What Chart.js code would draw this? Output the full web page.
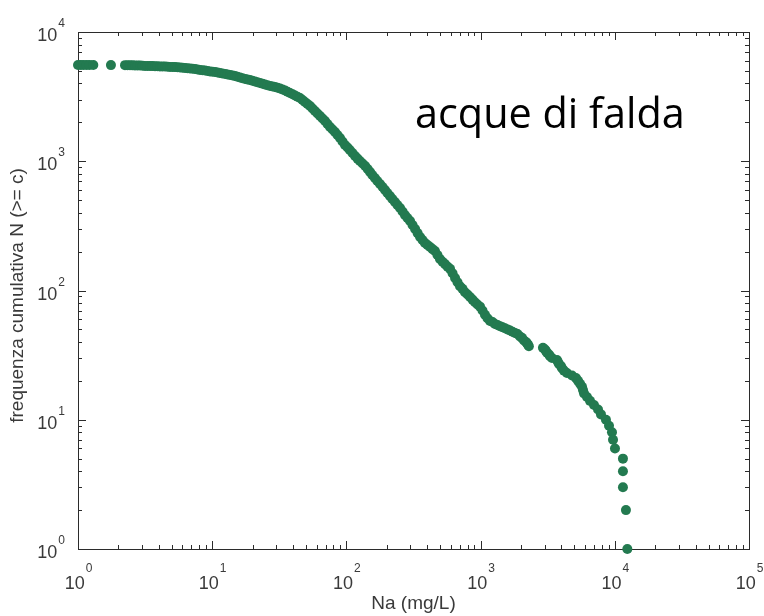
<!DOCTYPE html>
<html>
<head>
<meta charset="utf-8">
<script src="https://cdn.jsdelivr.net/npm/chart.js@4.4.1/dist/chart.umd.min.js"></script>
<style>
  html, body { margin: 0; padding: 0; background: #ffffff; }
  #wrap { width: 764px; height: 616px; }
</style>
</head>
<body>
<div id="wrap"><canvas id="c" width="764" height="616"></canvas></div>
<script>
// Na concentration (mg/L) and cumulative count N(>= c)
const naValues = [
  1.00, 1.05, 1.10, 1.16, 1.22, 1.30, 1.76,
  2.24, 2.34, 2.44, 2.55, 2.66, 2.78, 2.90, 3.03, 3.16, 3.30, 3.44, 3.59, 3.75, 3.91,
  4.08, 4.26, 4.45, 4.65, 4.85, 5.06, 5.28, 5.51, 5.76, 6.01, 6.27, 6.54, 6.83, 7.13,
  7.44, 7.77, 8.11, 8.47, 8.84, 9.23, 9.63, 10.05, 10.5, 10.95, 11.4, 11.9, 12.5, 13.0,
  13.6, 14.2, 14.8, 15.4, 16.1, 16.8, 17.6, 18.3, 19.1, 19.9, 20.8, 21.7, 22.7, 23.7,
  24.7, 25.8, 27.0, 28.2, 29.4, 30.7, 32.0, 33.4, 34.9, 36.4, 38.0, 39.7, 41.4, 43.2,
  45.1, 47.1, 49.1, 51.3, 53.6, 55.9, 58.3, 60.9, 63.6, 66.4, 69.3, 72.3, 75.5, 78.8,
  82.2, 85.8, 89.6, 93.5, 97.6, 102, 106, 111, 116, 121, 126, 132, 138, 144,
  150, 156, 163, 170, 178, 186, 194, 202, 211, 220, 230, 240, 251, 262,
  273, 285, 298, 311, 325, 339, 354, 369, 385, 402, 420, 438, 457, 477,
  498, 520, 543, 567, 592, 618, 645, 673, 702, 733, 765, 799, 834, 870,
  908, 948, 990, 1033, 1078, 1125, 1175, 1226, 1280, 1336, 1395, 1456, 1520, 1587,
  1656, 1728, 1804, 1883, 1966, 2035, 2106, 2180, 2220, 2256, 2290,
  2915, 3020, 3070, 3125, 3235, 3290, 3405, 3710, 3775, 3840, 3970, 4045, 4180, 4400,
  4800, 5140, 5320, 5510, 5700, 5795, 5895, 6205, 6535, 7000, 7500, 7890, 8595, 9055,
  9530, 9700, 10030, 11500, 11500, 11500, 12110, 12400
];
const countValues = [
  5560, 5558, 5556, 5554, 5552, 5550, 5546,
  5540, 5535, 5530, 5518, 5506, 5503, 5500, 5480, 5457, 5453, 5450, 5445, 5440, 5425,
  5409, 5405, 5400, 5380, 5361, 5355, 5350, 5332, 5313, 5290, 5266, 5242, 5219, 5195,
  5172, 5126, 5081, 5058, 5036, 4991, 4947, 4925, 4903, 4860, 4817, 4774, 4732, 4690,
  4648, 4607, 4566, 4506, 4446, 4387, 4329, 4291, 4253, 4196, 4140, 4085, 4031, 3978,
  3925, 3873, 3821, 3787, 3754, 3704, 3655, 3591, 3528, 3451, 3374, 3300, 3227, 3156,
  3086, 2978, 2873, 2774, 2676, 2560, 2448, 2342, 2240, 2142, 2049, 1942, 1841, 1761,
  1684, 1596, 1513, 1422, 1336, 1278, 1222, 1158, 1098, 1048, 1004, 961, 919, 871,
  826, 783, 742, 704, 667, 632, 599, 568, 538, 510, 484, 459, 435, 409,
  384, 364, 345, 321, 299, 278, 259, 246, 233, 225, 217, 209, 202, 188,
  175, 167, 160, 153, 147, 136, 125, 116, 108, 103, 97, 93, 89, 85,
  81, 78, 75, 70, 65, 61, 58, 57, 55, 54, 53, 52, 51, 50,
  49, 48, 47, 46, 44, 43, 41, 40, 39, 38, 37,
  36, 35, 34, 33, 32, 31, 30, 29, 28, 27, 26, 25, 24, 23,
  22, 21, 20, 19, 18, 17, 16, 15, 14, 13, 12, 11, 10, 9,
  8, 7, 6, 5, 4, 3, 2, 1
];
// tick labels: base and exponents
const tickBase = '10';
const xTickExponents = ['0', '1', '2', '3', '4', '5'];
const yTickExponents = ['0', '1', '2', '3', '4'];
const xTitle = 'Na (mg/L)';
const yTitle = 'frequenza cumulativa N (>= c)';
const annotationText = 'acque di falda';

const points = naValues.map((v, i) => ({ x: v, y: countValues[i] }));

const matlabAxes = {
  id: 'matlabAxes',
  beforeDatasetsDraw(chart) {
    const { ctx, chartArea: a, scales: { x, y } } = chart;
    ctx.save();
    ctx.strokeStyle = '#2b2b2b';
    ctx.lineWidth = 1;
    ctx.strokeRect(Math.round(a.left) + 0.5, Math.round(a.top) + 0.5,
                   Math.round(a.right - a.left), Math.round(a.bottom - a.top));
    ctx.beginPath();
    for (let d = 0; d < xTickExponents.length; d++) {
      for (let m = 1; m <= 9; m++) {
        const v = m * Math.pow(10, d);
        if (v > x.max) break;
        const px = Math.round(x.getPixelForValue(v)) + 0.5;
        const len = m === 1 ? 8 : 4;
        ctx.moveTo(px, a.bottom); ctx.lineTo(px, a.bottom - len);
        ctx.moveTo(px, a.top); ctx.lineTo(px, a.top + len);
      }
    }
    for (let d = 0; d < yTickExponents.length; d++) {
      for (let m = 1; m <= 9; m++) {
        const v = m * Math.pow(10, d);
        if (v > y.max) break;
        const py = Math.round(y.getPixelForValue(v)) + 0.5;
        const len = m === 1 ? 8 : 4;
        ctx.moveTo(a.left, py); ctx.lineTo(a.left + len, py);
        ctx.moveTo(a.right, py); ctx.lineTo(a.right - len, py);
      }
    }
    ctx.stroke();

    const bigFont = '18px "Liberation Sans", Arial, sans-serif';
    const smallFont = '12px "Liberation Sans", Arial, sans-serif';
    ctx.fillStyle = '#3a3a3a';
    ctx.textBaseline = 'alphabetic';
    ctx.textAlign = 'left';
    xTickExponents.forEach(e => {
      const px = x.getPixelForValue(Math.pow(10, Number(e)));
      ctx.font = bigFont; const wb = ctx.measureText(tickBase).width;
      ctx.font = smallFont; const we = ctx.measureText(e).width;
      const start = px - (wb + we) / 2;
      ctx.font = bigFont; ctx.fillText(tickBase, start, a.bottom + 40);
      ctx.font = smallFont; ctx.fillText(e, start + wb + 1, a.bottom + 23);
    });
    yTickExponents.forEach(e => {
      const py = y.getPixelForValue(Math.pow(10, Number(e)));
      ctx.font = smallFont; const we = ctx.measureText(e).width;
      ctx.font = bigFont; const wb = ctx.measureText(tickBase).width;
      const right = a.left - 13;
      ctx.font = bigFont; ctx.fillText(tickBase, right - we - 1 - wb, py + 9);
      ctx.font = smallFont; ctx.fillText(e, right - we, py - 5);
    });

    ctx.font = '19px "Liberation Sans", Arial, sans-serif';
    ctx.textAlign = 'center';
    ctx.textBaseline = 'middle';
    ctx.fillText(xTitle, (a.left + a.right) / 2, a.bottom + 55);
    ctx.save();
    ctx.translate(18, (a.top + a.bottom) / 2 + 5);
    ctx.rotate(-Math.PI / 2);
    ctx.fillText(yTitle, 0, 0);
    ctx.restore();

    ctx.fillStyle = '#000000';
    ctx.textAlign = 'left';
    ctx.textBaseline = 'alphabetic';
    ctx.font = '40px "Open Sans", sans-serif';
    const w = ctx.measureText(annotationText).width;
    const size = 40 * 270 / w;
    ctx.font = size.toFixed(1) + 'px "Open Sans", sans-serif';
    ctx.fillText(annotationText, 415, 128);
    ctx.restore();
  }
};

new Chart(document.getElementById('c'), {
  type: 'scatter',
  data: {
    datasets: [{
      data: points,
      backgroundColor: '#237a50',
      borderWidth: 0,
      pointRadius: 5,
      pointHoverRadius: 5,
      clip: false
    }]
  },
  options: {
    responsive: false,
    animation: false,
    events: [],
    layout: { padding: { left: 78, right: 15, top: 32, bottom: 67 } },
    plugins: { legend: { display: false }, tooltip: { enabled: false } },
    scales: {
      x: { type: 'logarithmic', min: 1, max: 100000, display: false },
      y: { type: 'logarithmic', min: 1, max: 10000, display: false }
    }
  },
  plugins: [matlabAxes]
});
</script>
</body>
</html>
